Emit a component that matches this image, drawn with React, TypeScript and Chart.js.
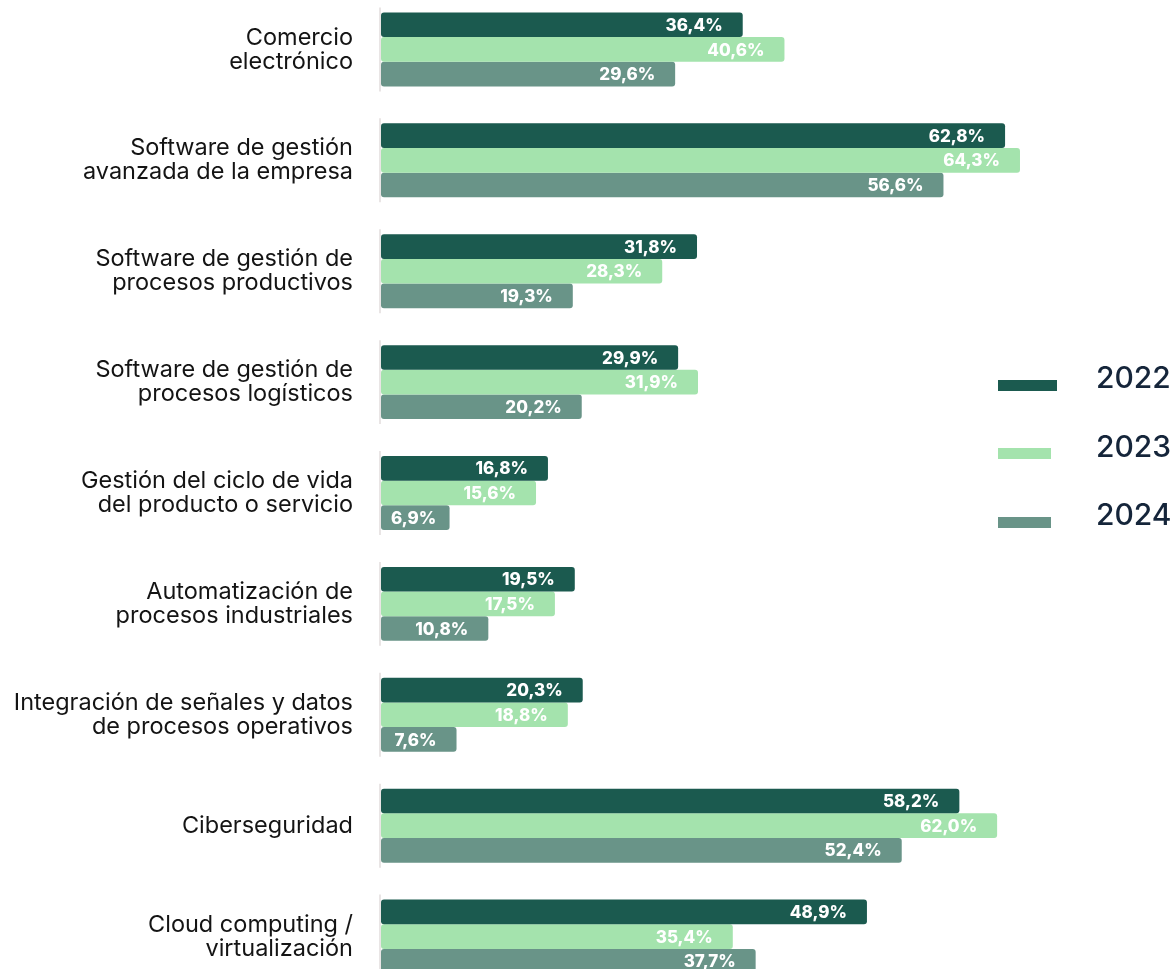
import React, { useEffect, useRef } from "react";
import { Chart, registerables } from "chart.js";

Chart.register(...registerables);

const categories: string[][] = [
  ["Comercio", "electrónico"],
  ["Software de gestión", "avanzada de la empresa"],
  ["Software de gestión de", "procesos productivos"],
  ["Software de gestión de", "procesos logísticos"],
  ["Gestión del ciclo de vida", "del producto o servicio"],
  ["Automatización de", "procesos industriales"],
  ["Integración de señales y datos", "de procesos operativos"],
  ["Ciberseguridad"],
  ["Cloud computing /", "virtualización"],
];

const years = ["2022", "2023", "2024"];
const values2022 = [36.4, 62.8, 31.8, 29.9, 16.8, 19.5, 20.3, 58.2, 48.9];
const values2023 = [40.6, 64.3, 28.3, 31.9, 15.6, 17.5, 18.8, 62.0, 35.4];
const values2024 = [29.6, 56.6, 19.3, 20.2, 6.9, 10.8, 7.6, 52.4, 37.7];
const colors = ["#1b5a4f", "#a4e3ad", "#699488"];

const FONT = "Inter, 'Noto Sans', sans-serif";
const TOP_OFFSET = 6;

const fmt = (v: number) => v.toFixed(1).replace(".", ",") + "%";

const axisSegments = {
  id: "axisSegments",
  beforeDatasetsDraw(chart: any) {
    const { ctx, chartArea, scales } = chart;
    const y = scales.y;
    const n = categories.length;
    const pitch = (chartArea.bottom - chartArea.top) / n;
    const half = (pitch * 0.667) / 2 + 5;
    ctx.save();
    ctx.strokeStyle = "#e2dcdc";
    ctx.lineWidth = 1.5;
    for (let i = 0; i < n; i++) {
      const c = y.getPixelForValue(i);
      ctx.beginPath();
      ctx.moveTo(chartArea.left - 1, c - half);
      ctx.lineTo(chartArea.left - 1, c + half);
      ctx.stroke();
    }
    ctx.restore();
  },
};

const valueLabels = {
  id: "valueLabels",
  afterDatasetsDraw(chart: any) {
    const { ctx } = chart;
    ctx.save();
    ctx.font = `800 17px ${FONT}`;
    ctx.fillStyle = "#ffffff";
    ctx.textAlign = "right";
    ctx.textBaseline = "middle";
    chart.data.datasets.forEach((ds: any, di: number) => {
      const meta = chart.getDatasetMeta(di);
      meta.data.forEach((bar: any, i: number) => {
        const txt = fmt(ds.data[i]);
        const w = ctx.measureText(txt).width;
        const x = Math.max(bar.x - 20, bar.base + w + 10);
        ctx.fillText(txt, x, bar.y + 1);
      });
    });
    ctx.restore();
  },
};

const customLegend = {
  id: "customLegend",
  afterDraw(chart: any) {
    const { ctx } = chart;
    const swatchY = [380, 448, 517];
    const swatchW = [59, 53, 53];
    const textY = [378, 447, 515];
    ctx.save();
    years.forEach((yr, i) => {
      ctx.fillStyle = colors[i];
      ctx.fillRect(998, swatchY[i] + TOP_OFFSET, swatchW[i], 11);
      ctx.fillStyle = "#15253a";
      ctx.font = `500 30px ${FONT}`;
      ctx.textAlign = "left";
      ctx.textBaseline = "middle";
      ctx.fillText(yr, 1096, textY[i] + TOP_OFFSET + 1);
    });
    ctx.restore();
  },
};

export default function App() {
  const ref = useRef<HTMLCanvasElement | null>(null);

  useEffect(() => {
    if (!ref.current) return;
    const seriesList = [values2022, values2023, values2024];
    const chart = new Chart(ref.current, {
      type: "bar",
      data: {
        labels: categories,
        datasets: years.map((yr, i) => ({
          label: yr,
          data: seriesList[i],
          backgroundColor: colors[i],
          borderRadius: 3,
          borderSkipped: false,
          barPercentage: 1,
          categoryPercentage: 0.667,
        })),
      },
      options: {
        indexAxis: "y",
        responsive: false,
        animation: false,
        layout: { padding: 0 },
        plugins: {
          legend: { display: false },
          tooltip: { enabled: false },
        },
        scales: {
          x: {
            display: false,
            min: 0,
            max: 80,
          },
          y: {
            grid: { display: false, drawTicks: false },
            border: { display: false },
            afterFit: (s: any) => {
              s.width = 381;
              s.paddingTop = 0;
              s.paddingBottom = 0;
            },
            ticks: {
              padding: 28,
              color: "#141414",
              font: { family: FONT, size: 23.5, lineHeight: "24px" },
            },
          },
        },
      },
      plugins: [axisSegments, valueLabels, customLegend],
    });
    return () => chart.destroy();
  }, []);

  return (
    <div
      style={{
        position: "absolute",
        left: 0,
        top: 0,
        width: 1176,
        height: 969,
        overflow: "hidden",
        background: "#ffffff",
      }}
    >
      <div style={{ position: "absolute", left: 0, top: -TOP_OFFSET, width: 1176, height: 998 }}>
        <canvas ref={ref} width={1176} height={998} style={{ width: 1176, height: 998 }} />
      </div>
    </div>
  );
}
